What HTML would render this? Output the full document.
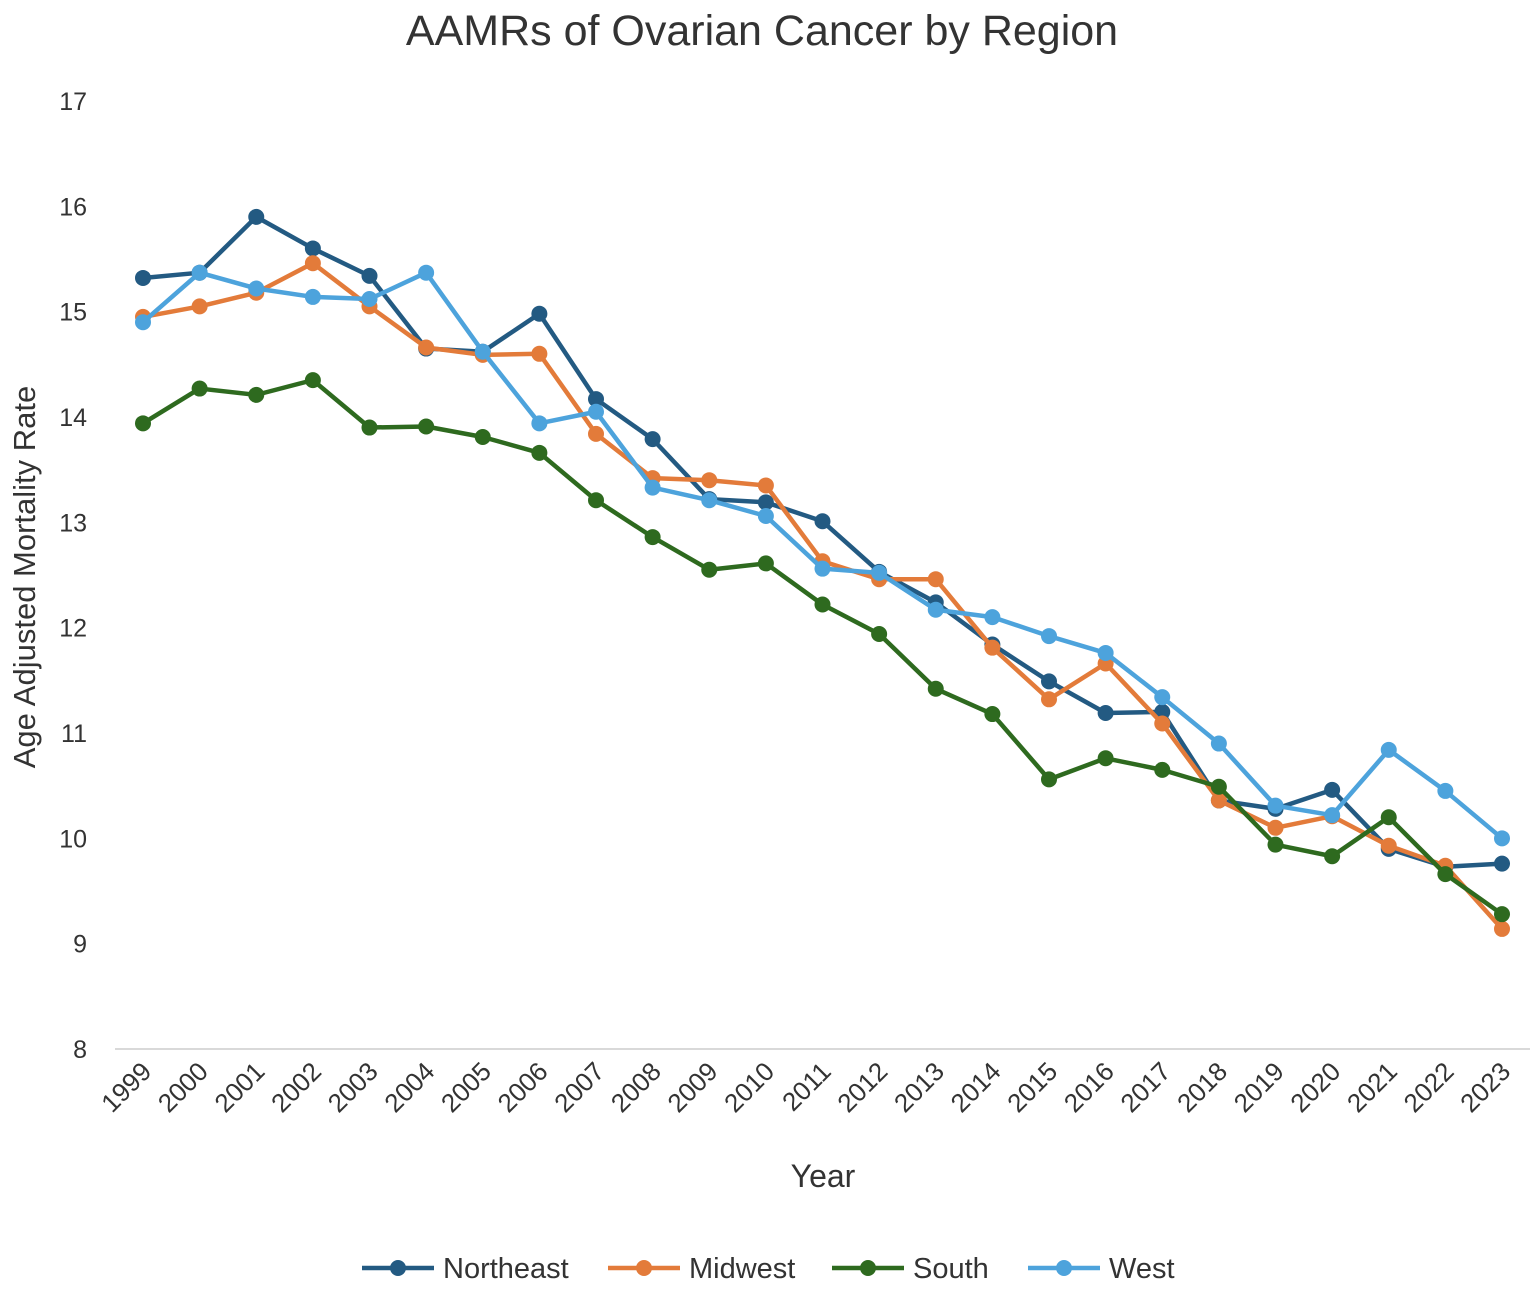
<!DOCTYPE html>
<html><head><meta charset="utf-8"><style>
body{margin:0;background:#fff;font-family:"Liberation Sans",sans-serif}
svg text{font-family:"Liberation Sans",sans-serif;fill:#333}
</style></head><body>
<svg id="chart" width="1535" height="1295" xmlns="http://www.w3.org/2000/svg">
<text x="762" y="45" font-size="43" text-anchor="middle">AAMRs of Ovarian Cancer by Region</text>
<text transform="translate(35,577) rotate(-90)" font-size="31" text-anchor="middle">Age Adjusted Mortality Rate</text>
<text x="823" y="1187" font-size="32" text-anchor="middle">Year</text>
<g id="axes"></g><g id="series"></g><g id="legend"></g>
</svg>
<script>
const years=[1999,2000,2001,2002,2003,2004,2005,2006,2007,2008,2009,2010,2011,2012,2013,2014,2015,2016,2017,2018,2019,2020,2021,2022,2023];
const yTicks=[8,9,10,11,12,13,14,15,16,17];
const seriesNames=["Northeast","Midwest","South","West"];
const northeast=[15.32,15.37,15.90,15.60,15.34,14.65,14.62,14.98,14.17,13.79,13.22,13.19,13.01,12.53,12.24,11.84,11.49,11.19,11.20,10.36,10.28,10.46,9.90,9.73,9.76];
const midwest=[14.95,15.05,15.18,15.46,15.05,14.66,14.59,14.60,13.84,13.42,13.40,13.35,12.63,12.46,12.46,11.81,11.32,11.66,11.09,10.36,10.10,10.21,9.93,9.74,9.14];
const south=[13.94,14.27,14.21,14.35,13.90,13.91,13.81,13.66,13.21,12.86,12.55,12.61,12.22,11.94,11.42,11.18,10.56,10.76,10.65,10.49,9.94,9.83,10.20,9.66,9.28];
const west=[14.90,15.37,15.22,15.14,15.12,15.37,14.62,13.94,14.05,13.33,13.21,13.06,12.56,12.52,12.17,12.10,11.92,11.76,11.34,10.90,10.31,10.22,10.84,10.45,10.00];
const colors=["#235a82","#e37b3a","#2e6a1f","#4da3dc"];
const NS="http://www.w3.org/2000/svg";
const x=i=>143+i*(1502-143)/(years.length-1);
const y=v=>1049-(v-8)*(1049-101)/9;
const axes=document.getElementById('axes');
function mk(t,a,p){const e=document.createElementNS(NS,t);for(const k in a)e.setAttribute(k,a[k]);p.appendChild(e);return e;}
const base=mk('line',{x1:115,x2:1530,y1:y(8),y2:y(8),stroke:'#d9d9d9','stroke-width':2},axes);


yTicks.forEach(v=>{const t=mk('text',{x:87,y:y(v)+9,'font-size':25,'text-anchor':'end'},axes);t.textContent=v;

});
years.forEach((yr,i)=>{const t=mk('text',{transform:`translate(${x(i)+10},${1073}) rotate(-45)`,'font-size':26,'text-anchor':'end'},axes);t.textContent=yr;

});
const data=[northeast,midwest,south,west];
const sg=document.getElementById('series');
data.forEach((d,s)=>{const g=mk('g',{},sg);


const pl=mk('polyline',{points:d.map((v,i)=>x(i)+','+y(v)).join(' '),fill:'none',stroke:colors[s],'stroke-width':4.5,'stroke-linejoin':'round'},g);


d.forEach((v,i)=>{const c=mk('circle',{cx:x(i),cy:y(v),r:8,fill:colors[s]},g);

});});
const lg=document.getElementById('legend');
const lx=[362,608,832,1028];
seriesNames.forEach((n,s)=>{const g=mk('g',{},lg);


mk('line',{x1:lx[s],x2:lx[s]+72,y1:1268,y2:1268,stroke:colors[s],'stroke-width':4.5},g);
mk('circle',{cx:lx[s]+36,cy:1268,r:8,fill:colors[s]},g);
const t=mk('text',{x:lx[s]+81,y:1278,'font-size':29},g);t.textContent=n;});
</script>
</body></html>
